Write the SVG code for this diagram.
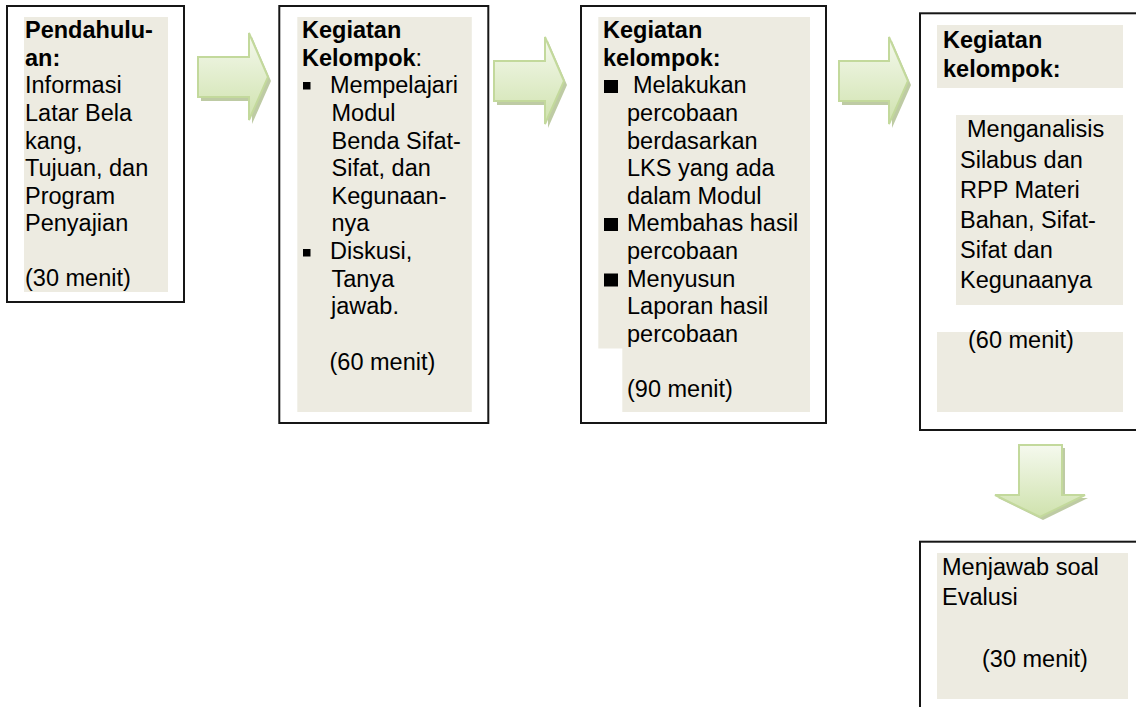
<svg xmlns="http://www.w3.org/2000/svg" width="1136" height="707" viewBox="0 0 1136 707">
<style>
  .box { fill: #ffffff; stroke: #161616; stroke-width: 2; }
  .pad { fill: #EDEBE1; }
  text { font-family: "Liberation Sans", Arial, sans-serif; font-size: 23.5px; fill: #000; }
  .b { font-weight: bold; }
  .arrow { fill: url(#ag); stroke: #c3d99c; stroke-width: 2; stroke-linejoin: miter; }
  .shadow { fill: #a8b986; opacity: 0.75; }
  .bullet { fill: #000; }
</style>
<defs>
  <linearGradient id="ag" x1="0" y1="0" x2="0" y2="1">
    <stop offset="0" stop-color="#f5f9ee"/>
    <stop offset="1" stop-color="#cfe2ad"/>
  </linearGradient>
</defs>
<rect width="1136" height="707" fill="#ffffff"/>

<g id="connectors">
  <g id="arrow1">
    <path class="shadow" d="M201,61 H252 V37 L271,81 L252,124 V101 H201 Z"/>
    <path class="arrow" d="M198,57 H249 V33 L268,77 L249,120 V97 H198 Z"/>
  </g>
  <g id="arrow2">
    <path class="shadow" d="M497,65 H548 V41 L567,85 L548,128 V105 H497 Z"/>
    <path class="arrow" d="M494,61 H545 V37 L564,81 L545,124 V101 H494 Z"/>
  </g>
  <g id="arrow3">
    <path class="shadow" d="M842,65 H892 V41 L911,85 L892,128 V105 H842 Z"/>
    <path class="arrow" d="M839,61 H889 V37 L908,81 L889,124 V101 H839 Z"/>
  </g>
  <g id="arrow4">
    <path class="shadow" d="M1022,448 H1065 V498 H1088 L1043,520 L998,498 H1022 Z"/>
    <path class="arrow" d="M1019,445 H1062 V495 H1085 L1040,517 L995,495 H1019 Z"/>
  </g>
</g>

<g id="node1">
  <rect class="box" x="7" y="6" width="177" height="296"/>
  <rect class="pad" x="24" y="17" width="144" height="275"/>
  <text x="25" y="38" class="b">Pendahulu-</text>
  <text x="25" y="65.5" class="b">an:</text>
  <text x="25" y="93.3">Informasi</text>
  <text x="25" y="121">Latar Bela</text>
  <text x="25" y="148.5">kang,</text>
  <text x="25" y="176">Tujuan, dan</text>
  <text x="25" y="203.7">Program</text>
  <text x="25" y="231">Penyajian</text>
  <text x="25" y="286">(30 menit)</text>
</g>

<g id="node2">
  <rect class="box" x="279.3" y="6" width="209" height="417"/>
  <rect class="pad" x="297.3" y="17" width="174.5" height="395"/>
  <text x="302" y="38" class="b">Kegiatan</text>
  <text x="302" y="65.5"><tspan class="b">Kelompok</tspan>:</text>
  <rect class="bullet" x="303" y="82" width="7.5" height="7.5"/>
  <text x="330" y="93">Mempelajari</text>
  <text x="331.5" y="121">Modul</text>
  <text x="331.5" y="148.5">Benda Sifat-</text>
  <text x="331.5" y="176">Sifat, dan</text>
  <text x="331.5" y="204">Kegunaan-</text>
  <text x="331.5" y="231">nya</text>
  <rect class="bullet" x="303" y="249" width="7.5" height="7.5"/>
  <text x="330" y="259">Diskusi,</text>
  <text x="331.5" y="286.5">Tanya</text>
  <text x="331" y="314">jawab.</text>
  <text x="329.5" y="369.5">(60 menit)</text>
</g>

<g id="node3">
  <rect class="box" x="581" y="6" width="245" height="417"/>
  <rect class="pad" x="598.3" y="17" width="211.7" height="331.5"/>
  <rect class="pad" x="622.3" y="348" width="187.7" height="64"/>
  <text x="603" y="38" class="b">Kegiatan</text>
  <text x="603" y="65.5" class="b">kelompok:</text>
  <rect class="bullet" x="604" y="80" width="14" height="13"/>
  <text x="633" y="93">Melakukan</text>
  <text x="627" y="121">percobaan</text>
  <text x="627" y="148.5">berdasarkan</text>
  <text x="627" y="176">LKS yang ada</text>
  <text x="627" y="204">dalam Modul</text>
  <rect class="bullet" x="604" y="218" width="14" height="13"/>
  <text x="627" y="231">Membahas hasil</text>
  <text x="627" y="259">percobaan</text>
  <rect class="bullet" x="604" y="273.5" width="14" height="13"/>
  <text x="627" y="286.5">Menyusun</text>
  <text x="627" y="314">Laporan hasil</text>
  <text x="627" y="342">percobaan</text>
  <text x="627" y="397">(90 menit)</text>
</g>

<g id="node4">
  <rect class="box" x="920" y="13.3" width="230" height="416.7"/>
  <rect class="pad" x="937" y="25" width="186" height="63"/>
  <rect class="pad" x="956" y="115" width="167" height="190"/>
  <rect class="pad" x="937" y="332" width="186" height="80"/>
  <text x="943" y="48.3" class="b">Kegiatan</text>
  <text x="943" y="77.3" class="b">kelompok:</text>
  <text x="967" y="137">Menganalisis</text>
  <text x="960" y="167.5">Silabus dan</text>
  <text x="960" y="197.5">RPP Materi</text>
  <text x="960" y="227.5">Bahan, Sifat-</text>
  <text x="960" y="257.5">Sifat dan</text>
  <text x="960" y="287.5">Kegunaanya</text>
  <text x="968" y="348">(60 menit)</text>
</g>

<g id="node5">
  <rect class="box" x="920" y="541.7" width="230" height="180"/>
  <rect class="pad" x="937" y="553" width="191" height="146"/>
  <text x="942" y="575">Menjawab soal</text>
  <text x="942" y="605">Evalusi</text>
  <text x="982" y="667">(30 menit)</text>
</g>
</svg>
